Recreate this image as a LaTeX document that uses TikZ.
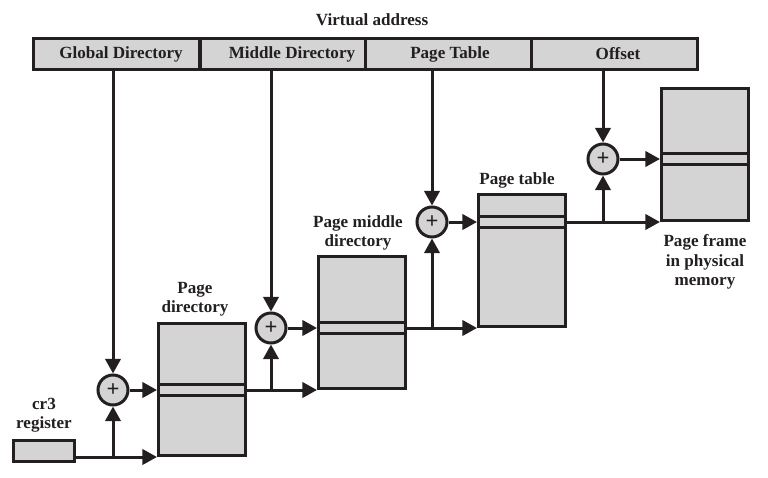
\documentclass[tikz,border=0pt]{standalone}
\usepackage{fontspec}
\setmainfont{Liberation Serif}
\usetikzlibrary{arrows.meta}
\definecolor{boxC}{RGB}{212,212,212}
\definecolor{lineC}{RGB}{35,31,32}
\begin{document}
\begin{tikzpicture}[x=0.75pt,y=-0.75pt,
  font=\fontsize{12.8pt}{14.5pt}\selectfont\bfseries,
  every node/.style={text=lineC},
  cell/.style={draw=lineC, fill=boxC, line width=2.25pt, minimum width=124.5pt, minimum height=23.25pt, inner sep=0pt},
  membox/.style={draw=lineC, fill=boxC, line width=2.25pt, minimum width=65.25pt, minimum height=99pt, inner sep=0pt, anchor=south west},
  regbox/.style={draw=lineC, fill=boxC, line width=2.25pt, minimum width=45.75pt, minimum height=15.75pt, inner sep=0pt},
  adder/.style={circle, draw=lineC, fill=boxC, line width=2.25pt, minimum size=22.5pt, inner sep=0pt, font=\fontsize{17pt}{17pt}\selectfont\bfseries},
  entry/.style={draw=lineC, line width=2.25pt},
  conn/.style={draw=lineC, line width=2.25pt},
  arr/.style={conn, -{Triangle[length=11pt,width=11.5pt]}},
  lbl/.style={align=center, inner sep=0pt}
]
\useasboundingbox (0,0) rectangle (768,478);

% virtual address
\node[lbl] (va) at (372,20) {Virtual address};
\node[cell] (gd)  at (116.5,54.5) {};
\node[cell] (md)  at (283,54.5) {};
\node[cell] (ptf) at (448.5,54.5) {};
\node[cell] (off) at (614,54.5) {};
\node[lbl] (gdt)  at (121,54) {Global Directory};
\node[lbl] (mdt)  at (292,54) {Middle Directory};
\node[lbl] (ptft) at (450,54) {Page Table};
\node[lbl] (offt) at (618,54) {Offset};

% memory boxes
\node[membox] (pd)  at (157,457) {};
\node[membox] (pmd) at (317,390) {};
\node[membox] (pt)  at (477,328) {};
\node[membox] (pf)  at (660,222) {};

% entries
\draw[entry] (pd.west |- 0,384.5) -- (pd.east |- 0,384.5);
\draw[entry] (pd.west |- 0,395.5) -- (pd.east |- 0,395.5);
\draw[entry] (pmd.west |- 0,322.5) -- (pmd.east |- 0,322.5);
\draw[entry] (pmd.west |- 0,333.5) -- (pmd.east |- 0,333.5);
\draw[entry] (pt.west |- 0,216.5) -- (pt.east |- 0,216.5);
\draw[entry] (pt.west |- 0,227.5) -- (pt.east |- 0,227.5);
\draw[entry] (pf.west |- 0,153.5) -- (pf.east |- 0,153.5);
\draw[entry] (pf.west |- 0,164.5) -- (pf.east |- 0,164.5);

\coordinate (pdE)  at (157,390);
\coordinate (pdX)  at (pd.east |- pdE);
\coordinate (pmdE) at (317,328);
\coordinate (pmdX) at (pmd.east |- pmdE);
\coordinate (ptE)  at (477,222);
\coordinate (ptX)  at (pt.east |- ptE);
\coordinate (pfE)  at (660,159);

% labels
\node[lbl] (pdl)  at (195,299) {Page\\directory};
\node[lbl] (pmdl) at (358,233) {Page middle\\directory};
\node[lbl] (ptl)  at (517,180) {Page table};
\node[lbl] (pfl)  at (705,262) {Page frame\\in physical\\memory};
\node[lbl] (crl)  at (44,415) {cr3\\register};

% cr3
\node[regbox] (cr3) at (44,451) {};

% adders
\node[adder] (a1) at (113,390) {+};
\node[adder] (a2) at (271,328) {+};
\node[adder] (a3) at (432,222) {+};
\node[adder] (a4) at (603,159) {+};

% from virtual address
\draw[arr] (a1 |- gd.south) -- (a1.north);
\draw[arr] (a2 |- md.south) -- (a2.north);
\draw[arr] (a3 |- ptf.south) -- (a3.north);
\draw[arr] (a4 |- off.south) -- (a4.north);

% cr3 to page directory
\draw[arr] (cr3.east |- pd.south west) -- (pd.south west);
\draw[arr] (a1 |- pd.south west) -- (a1.south);
\draw[arr] (a1.east) -- (pdE);

% page directory to page middle directory
\draw[arr] (pdX) -- (pmd.south west);
\draw[arr] (a2 |- pmd.south west) -- (a2.south);
\draw[arr] (a2.east) -- (pmdE);

% page middle directory to page table
\draw[arr] (pmdX) -- (pt.south west);
\draw[arr] (a3 |- pt.south west) -- (a3.south);
\draw[arr] (a3.east) -- (ptE);

% page table to page frame
\draw[arr] (ptX) -- (pf.south west);
\draw[arr] (a4 |- pf.south west) -- (a4.south);
\draw[arr] (a4.east) -- (pfE);
\end{tikzpicture}
\end{document}
